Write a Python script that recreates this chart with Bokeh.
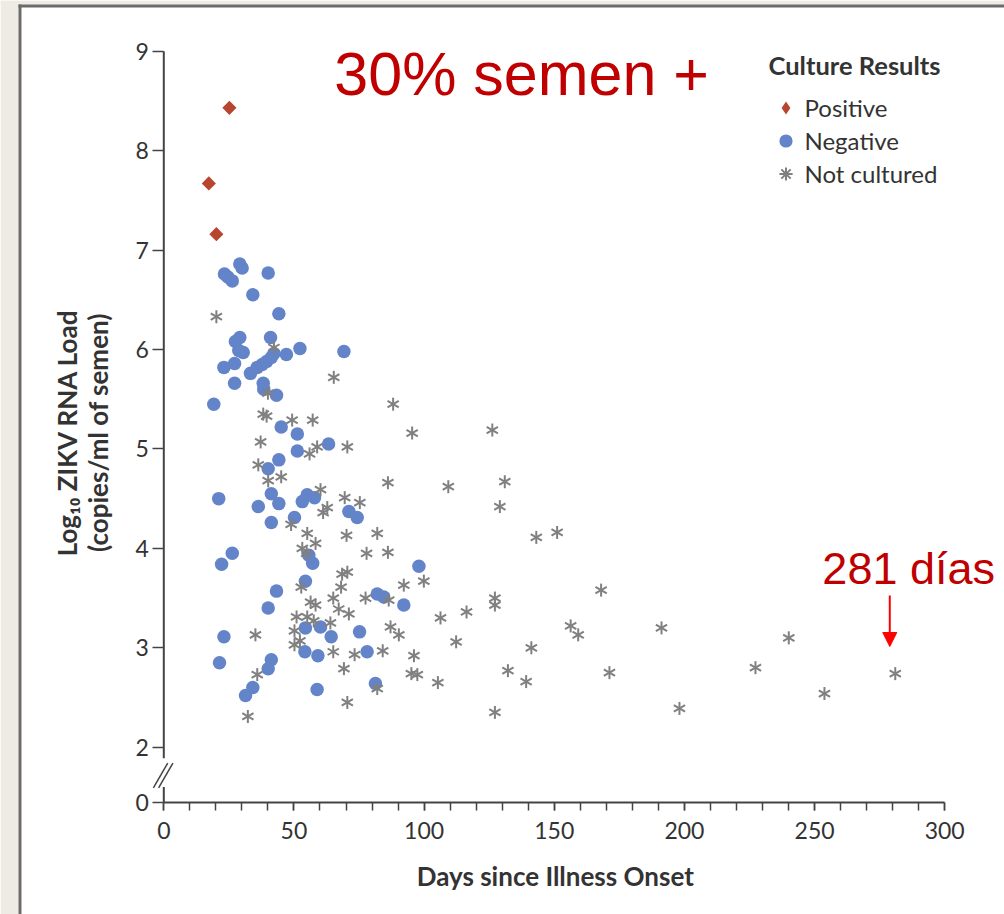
import math
from bokeh.plotting import figure
from bokeh.models import (Range1d, FixedTicker, SingleIntervalTicker, CustomJSTickFormatter,
                          Label, Arrow, NormalHead, BoxAnnotation, Legend, LegendItem, LinearAxis)
from bokeh.embed import file_html
from bokeh.resources import INLINE

# ---------------- data (days since illness onset, log10 ZIKV RNA copies/ml semen) ----------------
pos_days = [17.3, 25.2, 20.2]
pos_load = [7.67, 8.43, 7.16]

neg_days = [23.3, 24.6, 26.3, 29.2, 30.1, 40.1, 34.2, 44.2, 29.2, 27.5,
            28.8, 30.5, 41.0, 47.1, 52.3, 69.2, 23.1, 27.2, 33.3, 35.9,
            37.8, 39.5, 41.3, 42.3, 27.2, 38.2, 38.4, 43.3, 19.2, 45.1,
            51.3, 63.3, 51.3, 44.2, 40.1, 21.1, 41.3, 44.2, 36.3, 55.1,
            57.9, 53.2, 71.1, 74.3, 41.3, 50.2, 26.3, 22.2, 57.2, 55.7,
            43.3, 40.1, 54.4, 23.1, 54.4, 60.2, 64.3, 54.2, 59.2, 21.4,
            41.3, 40.1, 34.2, 31.4, 58.9, 75.2, 78.1, 81.3, 82.0, 84.5,
            92.2, 98.0]
neg_load = [6.76, 6.73, 6.69, 6.86, 6.82, 6.77, 6.55, 6.36, 6.12, 6.08,
            5.99, 5.97, 6.12, 5.95, 6.01, 5.98, 5.82, 5.86, 5.76, 5.82,
            5.85, 5.88, 5.92, 5.96, 5.66, 5.66, 5.60, 5.54, 5.45, 5.22,
            5.15, 5.05, 4.98, 4.89, 4.80, 4.50, 4.55, 4.45, 4.42, 4.54,
            4.51, 4.47, 4.37, 4.31, 4.26, 4.31, 3.95, 3.84, 3.85, 3.93,
            3.57, 3.40, 3.67, 3.11, 3.20, 3.21, 3.11, 2.96, 2.92, 2.85,
            2.88, 2.79, 2.60, 2.52, 2.58, 3.16, 2.96, 2.64, 3.54, 3.51,
            3.43, 3.82]

nc_days = [20.2, 42.3, 65.3, 38.2, 39.5, 49.3, 57.2, 88.1, 95.4, 126.2,
           37.2, 58.9, 56.0, 70.5, 36.3, 45.1, 40.1, 86.1, 109.3, 131.0,
           129.1, 60.2, 69.5, 75.3, 62.8, 61.2, 48.9, 70.2, 82.0, 143.1,
           151.1, 55.1, 58.3, 53.2, 54.9, 77.9, 86.1, 68.5, 70.5, 68.1,
           52.8, 99.9, 92.2, 65.1, 56.4, 58.3, 77.5, 86.4, 67.2, 71.1,
           106.3, 51.0, 55.1, 57.6, 64.0, 50.2, 87.1, 90.3, 52.3, 50.2,
           65.1, 73.3, 84.1, 96.1, 69.2, 95.1, 97.4, 105.3, 82.0, 70.5,
           35.2, 35.9, 32.3, 127.2, 127.2, 168.0, 116.3, 156.3, 159.2, 191.2,
           112.3, 141.2, 132.2, 139.2, 171.2, 127.2, 198.1, 227.3, 240.1, 253.8,
           281.0, 40.0]
nc_load = [6.33, 6.02, 5.72, 5.35, 5.33, 5.29, 5.29, 5.45, 5.16, 5.19,
           5.07, 5.02, 4.95, 5.02, 4.84, 4.72, 4.68, 4.66, 4.62, 4.67,
           4.42, 4.59, 4.51, 4.46, 4.41, 4.36, 4.24, 4.13, 4.15, 4.11,
           4.16, 4.15, 4.05, 4.00, 3.95, 3.95, 3.96, 3.74, 3.76, 3.61,
           3.61, 3.67, 3.63, 3.50, 3.46, 3.43, 3.50, 3.48, 3.39, 3.34,
           3.30, 3.31, 3.31, 3.27, 3.25, 3.17, 3.21, 3.13, 3.07, 3.03,
           2.96, 2.93, 2.97, 2.92, 2.79, 2.74, 2.73, 2.65, 2.59, 2.45,
           3.13, 2.73, 2.31, 3.50, 3.43, 3.58, 3.36, 3.22, 3.13, 3.20,
           3.06, 3.00, 2.77, 2.66, 2.75, 2.35, 2.39, 2.80, 3.10, 2.54,
           2.74, 5.56]

legend_labels = ["Positive", "Negative", "Not cultured"]
y_tick_values = [2, 3, 4, 5, 6, 7, 8, 9]
AXIS_ZERO = 1.447   # plotted position of the "0" tick below the axis break

# ---------------- styling ----------------
POS_COLOR = "#b8462e"
NEG_COLOR = "#6384c8"
NC_COLOR = "#808080"
AXIS_COLOR = "#444444"
TEXT_COLOR = "#333333"
RED_TEXT = "#c00000"
PAGE_BG = "#eeebe5"
FRAME_GRAY = "#6b6b6b"
X_LO, X_HI = -62.735, 322.97
Y_LO, Y_HI = 0.3175, 9.5099

# the frame fills the whole canvas; axes are pinned at fixed locations inside it
p = figure(width=1004, height=914, output_backend="svg", toolbar_location=None,
           x_range=Range1d(X_LO, X_HI), y_range=Range1d(Y_LO, Y_HI),
           x_axis_location=None, y_axis_location=None,
           min_border=0, min_border_left=0, min_border_right=0,
           min_border_top=0, min_border_bottom=0,
           background_fill_color="white", border_fill_color="white", outline_line_color=None)
p.grid.visible = False

xa = LinearAxis(fixed_location=AXIS_ZERO, bounds=(0, 300),
                ticker=SingleIntervalTicker(interval=50, num_minor_ticks=5))
xa.axis_line_color = AXIS_COLOR
xa.axis_line_width = 2
xa.major_tick_out = 8
xa.major_tick_in = 0
xa.minor_tick_out = 8
xa.minor_tick_in = 0
xa.major_tick_line_color = AXIS_COLOR
xa.minor_tick_line_color = AXIS_COLOR
xa.major_tick_line_width = 1.5
xa.minor_tick_line_width = 1.5
xa.major_label_text_font = "Lato"
xa.major_label_text_font_size = "23px"
xa.major_label_text_color = TEXT_COLOR
xa.major_label_standoff = 12
p.add_layout(xa, "below")

ya = LinearAxis(fixed_location=0, bounds=(AXIS_ZERO, 9),
                ticker=FixedTicker(ticks=[AXIS_ZERO] + y_tick_values),
                formatter=CustomJSTickFormatter(code="return tick < 1.9 ? '0' : tick.toFixed(0);"))
ya.axis_line_color = None
ya.major_tick_out = 11
ya.major_tick_in = 0
ya.minor_tick_out = 0
ya.major_tick_line_color = AXIS_COLOR
ya.major_tick_line_width = 1.5
ya.major_label_text_font = "Lato"
ya.major_label_text_font_size = "23px"
ya.major_label_text_color = TEXT_COLOR
ya.major_label_standoff = 4
p.add_layout(ya, "left")

# y axis line with a break between 0 and 2
p.add_layout(Arrow(end=None, x_start=0, y_start=9, x_end=0, y_end=1.89,
                   line_color=AXIS_COLOR, line_width=2))
p.add_layout(Arrow(end=None, x_start=0, y_start=1.60, x_end=0, y_end=AXIS_ZERO,
                   line_color=AXIS_COLOR, line_width=2))
for x0 in (-4.0, -2.0):
    p.add_layout(Arrow(end=None, x_start=x0, y_start=1.59, x_end=x0 + 5.5, y_end=1.84,
                       line_color=AXIS_COLOR, line_width=1.5))

# page background strip and slide frame border
p.add_layout(BoxAnnotation(left=X_LO, right=-55.82, bottom=Y_LO, top=Y_HI, fill_color=PAGE_BG,
                           fill_alpha=1, line_color=None))
p.add_layout(BoxAnnotation(left=X_LO, right=X_HI, bottom=9.4697, top=Y_HI, fill_color=PAGE_BG,
                           fill_alpha=1, line_color=None))
p.add_layout(BoxAnnotation(left=-55.82, right=-54.67, bottom=Y_LO, top=9.4697, fill_color=FRAME_GRAY,
                           fill_alpha=1, line_color=None))
p.add_layout(BoxAnnotation(left=-55.82, right=X_HI, bottom=9.4395, top=9.4697, fill_color=FRAME_GRAY,
                           fill_alpha=1, line_color=None))

# ---------------- data glyphs ----------------
r_neg = p.scatter(neg_days, neg_load, marker="circle", size=13.5,
                  fill_color=NEG_COLOR, line_color=None)
for a in (math.pi / 2, math.pi / 6, -math.pi / 6):
    p.scatter(nc_days, nc_load, marker="dash", angle=a, size=13,
              line_color=NC_COLOR, line_width=2)
p.scatter(pos_days, pos_load, marker="square", angle=math.pi / 4, size=10,
          fill_color=POS_COLOR, line_color=None)

# hidden renderers of the same data, used only for the legend swatches
leg_pos = p.scatter(pos_days, pos_load, marker="diamond", size=14,
                    fill_color=POS_COLOR, line_color=None, visible=False)
leg_nc = p.scatter(nc_days, nc_load, marker="asterisk", size=13,
                   line_color=NC_COLOR, line_width=2, visible=False)

legend = Legend(items=[LegendItem(label=legend_labels[0], renderers=[leg_pos]),
                       LegendItem(label=legend_labels[1], renderers=[r_neg]),
                       LegendItem(label=legend_labels[2], renderers=[leg_nc])],
                location=(768.5, 724.2), title="Culture Results",
                title_text_font="Lato", title_text_font_style="bold",
                title_text_font_size="25.5px", title_text_color=TEXT_COLOR,
                title_standoff=11,
                label_text_font="Lato", label_text_font_size="24px",
                label_text_color=TEXT_COLOR,
                glyph_width=33, glyph_height=33, label_height=33, spacing=0,
                label_standoff=3, padding=0, margin=0,
                border_line_alpha=0, background_fill_alpha=0)
p.add_layout(legend, "center")

# ---------------- text annotations ----------------
p.add_layout(Label(x=150.4, y=0.70, text="Days since Illness Onset", text_font="Lato",
                   text_font_style="bold", text_font_size="26px", text_color=TEXT_COLOR,
                   text_align="center", text_baseline="middle"))
p.add_layout(Label(x=-37.0, y=5.165, angle=math.pi / 2, text="Log\u2081\u2080 ZIKV RNA Load",
                   text_font="Lato", text_font_style="bold", text_font_size="26px",
                   text_color=TEXT_COLOR, text_align="center", text_baseline="middle"))
p.add_layout(Label(x=-25.3, y=5.165, angle=math.pi / 2, text="(copies/ml of semen)",
                   text_font="Lato", text_font_style="bold", text_font_size="26px",
                   text_color=TEXT_COLOR, text_align="center", text_baseline="middle"))

p.add_layout(Label(x=65.5, y=8.77, text="30% semen +", text_font="Liberation Sans",
                   text_font_size="61px", text_color=RED_TEXT, text_baseline="alphabetic"))
p.add_layout(Label(x=253.0, y=3.80, text="281 días", text_font="Liberation Sans",
                   text_font_size="45px", text_color=RED_TEXT, text_baseline="alphabetic"))
p.add_layout(Arrow(end=NormalHead(size=14, fill_color="#ff0000", line_color="#ff0000"),
                   x_start=278.9, y_start=3.526, x_end=278.9, y_end=3.013,
                   line_color="#ff0000", line_width=2))

open("out.html", "w").write(file_html(p, INLINE))
